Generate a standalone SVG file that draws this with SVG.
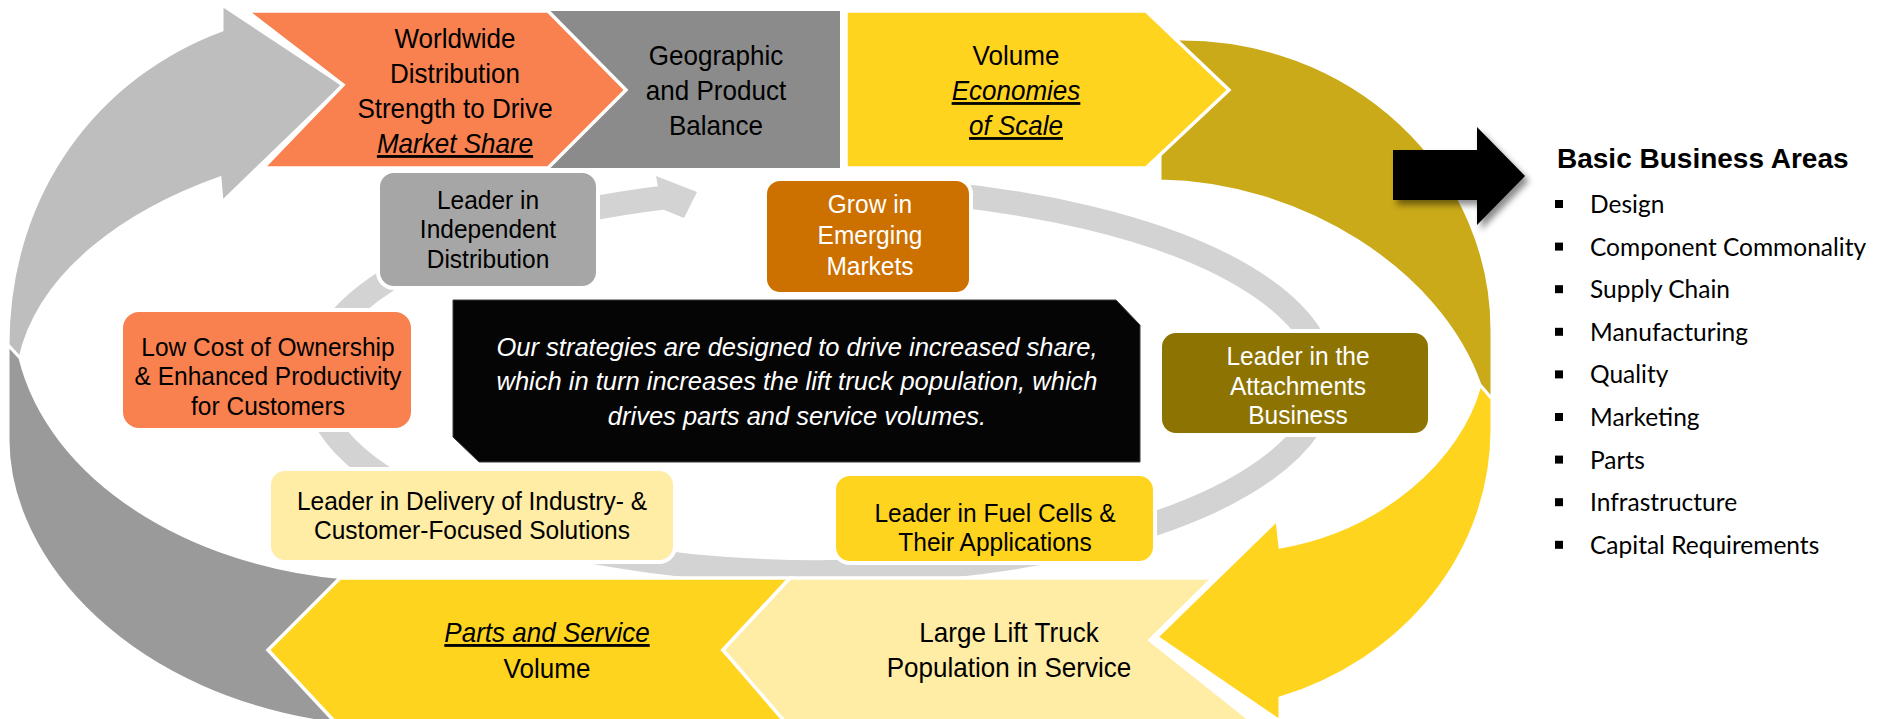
<svg xmlns="http://www.w3.org/2000/svg" width="1878" height="719" viewBox="0 0 1878 719">
<defs>
<filter id="shadow" x="-20%" y="-20%" width="150%" height="160%">
<feDropShadow dx="4" dy="5" stdDeviation="3" flood-color="#000" flood-opacity="0.45"/>
</filter>
</defs>
<style>
.big{stroke:#fff;stroke-width:3;stroke-linejoin:miter}
.chev{stroke:#fff;stroke-width:3.5;stroke-linejoin:miter}
.box{stroke:#fff;stroke-width:4}
.t{font-family:"Liberation Sans",Arial,sans-serif;text-anchor:middle;fill:#000}
.ct{font-size:28px}
.bt{font-size:26.5px}
.w{fill:#fff}
.iu{font-style:italic;text-decoration:underline}
.it{font-style:italic;font-size:25.5px;fill:#fff}
.band{fill:none;stroke:#D3D3D3;stroke-width:24}
.head{font-family:"Liberation Sans",Arial,sans-serif;font-weight:bold;font-size:28px;fill:#000}
.li{font-family:Lato,"Open Sans",sans-serif;font-size:24.5px;fill:#000}
.bul{fill:#000}
</style>

<g id="cycle-arrows">
<path id="arc-lightgrey" class="big" fill="#BEBEBE" d="M 222,30 L 222,5 L 343,85 L 222,202 L 220,178 C 130,210 40,270 20,358 L 8,345 C 8,190 100,75 222,30 Z"/>
<path id="arc-darkgrey" class="big" fill="#9A9A9A" d="M 8,345 L 8,440 C 8,560 130,700 345,725 L 380,725 L 380,580 L 345,578 C 190,565 50,480 20,358 Z"/>
<path id="arc-gold" class="big" fill="#CAAA18" d="M 1160,39 L 1182,39 A 310 291 0 0 1 1492,330 L 1492,399 L 1480,385 C 1440,270 1300,183 1160,181 Z"/>
</g>

<g id="connectors">
<path id="ring" class="band" d="M 870,189.1 A 505 192 0 1 1 665,197.3"/>
<polygon id="ring-head" fill="#D3D3D3" points="656,176 697,192 684,218 662,209"/>
<polygon id="to-business-areas" fill="#000" filter="url(#shadow)" points="1393,150 1477,150 1477,127 1525,176 1477,225 1477,200 1393,200"/>
</g>

<g id="node-geographic">
<rect x="540" y="11" width="300" height="157" fill="#8B8B8B"/>
<g transform="translate(716 0) scale(0.93 1) translate(-716 0)">
<text class="t ct"><tspan x="716" y="65">Geographic</tspan><tspan x="716" y="100">and Product</tspan><tspan x="716" y="135">Balance</tspan></text>
</g>
</g>

<g id="node-worldwide">
<polygon class="chev" fill="#F8814F" points="247,11 548,11 626,90 548,168 263,168 343,85"/>
<g transform="translate(455 0) scale(0.93 1) translate(-455 0)">
<text class="t ct"><tspan x="455" y="48">Worldwide</tspan><tspan x="455" y="83">Distribution</tspan><tspan x="455" y="118">Strength to Drive</tspan></text>
<text class="t ct iu" x="455" y="153">Market Share</text>
</g>
</g>

<g id="node-volume">
<polygon class="chev" fill="#FED41F" points="846,11 1146,11 1229,90 1146,168 846,168"/>
<g transform="translate(1016 0) scale(0.93 1) translate(-1016 0)">
<text class="t ct" x="1016" y="65">Volume</text>
<text class="t ct iu" x="1016" y="100">Economies</text>
<text class="t ct iu" x="1016" y="135">of Scale</text>
</g>
</g>

<g id="node-parts">
<polygon class="chev" fill="#FED41F" points="340,578 790,578 723,650 790,722 335,722 268,650"/>
<g transform="translate(547 0) scale(0.93 1) translate(-547 0)">
<text class="t ct iu" x="547" y="642">Parts and Service</text>
<text class="t ct" x="547" y="678">Volume</text>
</g>
</g>

<g id="node-population">
<polygon class="chev" fill="#FFECA5" points="790,578 1213,578 1150,640 1253,722 785,722 723,650"/>
<g transform="translate(1009 0) scale(0.93 1) translate(-1009 0)">
<text class="t ct"><tspan x="1009" y="642">Large Lift Truck</tspan><tspan x="1009" y="677">Population in Service</tspan></text>
</g>
</g>

<g id="arc-yellow">
<path class="big" fill="#FED41F" d="M 1480,385 L 1492,399 L 1492,430 A 310 283 0 0 1 1280,698 L 1280,721 L 1157,637 L 1277,520 L 1280,547 C 1380,530 1460,460 1480,385 Z"/>
</g>

<g id="node-independent">
<rect class="box" x="378" y="171" width="220" height="117" rx="16" fill="#A6A6A6"/>
<g transform="translate(488 0) scale(0.925 1) translate(-488 0)">
<text class="t bt"><tspan x="488" y="209">Leader in</tspan><tspan x="488" y="238">Independent</tspan><tspan x="488" y="268">Distribution</tspan></text>
</g>
</g>

<g id="node-emerging">
<rect class="box" x="765" y="179" width="206" height="115" rx="15" fill="#CC7000"/>
<g transform="translate(870 0) scale(0.925 1) translate(-870 0)">
<text class="t bt w"><tspan x="870" y="213">Grow in</tspan><tspan x="870" y="244">Emerging</tspan><tspan x="870" y="275">Markets</tspan></text>
</g>
</g>

<g id="node-lowcost">
<rect class="box" x="121" y="310" width="292" height="120" rx="18" fill="#F8814F"/>
<g transform="translate(268 0) scale(0.925 1) translate(-268 0)">
<text class="t bt"><tspan x="268" y="356">Low Cost of Ownership</tspan><tspan x="268" y="385">&amp; Enhanced Productivity</tspan><tspan x="268" y="415">for Customers</tspan></text>
</g>
</g>

<g id="node-attachments">
<rect class="box" x="1160" y="331" width="270" height="104" rx="16" fill="#8D7301"/>
<g transform="translate(1298 0) scale(0.925 1) translate(-1298 0)">
<text class="t bt w"><tspan x="1298" y="365">Leader in the</tspan><tspan x="1298" y="395">Attachments</tspan><tspan x="1298" y="424">Business</tspan></text>
</g>
</g>

<g id="node-delivery">
<rect class="box" x="269" y="469" width="406" height="93" rx="16" fill="#FFECA5"/>
<g transform="translate(472 0) scale(0.925 1) translate(-472 0)">
<text class="t bt"><tspan x="472" y="510">Leader in Delivery of Industry- &amp;</tspan><tspan x="472" y="539">Customer-Focused Solutions</tspan></text>
</g>
</g>

<g id="node-fuelcells">
<rect class="box" x="834" y="474" width="321" height="89" rx="16" fill="#FED41F"/>
<g transform="translate(995 0) scale(0.925 1) translate(-995 0)">
<text class="t bt"><tspan x="995" y="522">Leader in Fuel Cells &amp;</tspan><tspan x="995" y="551">Their Applications</tspan></text>
</g>
</g>

<g id="node-strategy">
<polygon fill="#050505" stroke="#3a3a3a" stroke-width="1" points="453,300 1116,300 1140,325 1140,462 479,462 453,437"/>
<text class="t it"><tspan x="797" y="356">Our strategies are designed to drive increased share,</tspan><tspan x="797" y="390">which in turn increases the lift truck population, which</tspan><tspan x="797" y="425">drives parts and service volumes.</tspan></text>
</g>

<g id="node-business-areas">
<text class="head" x="1557" y="168">Basic Business Areas</text>
<rect class="bul" x="1555" y="200" width="8" height="8"/>
<rect class="bul" x="1555" y="242.6" width="8" height="8"/>
<rect class="bul" x="1555" y="285.2" width="8" height="8"/>
<rect class="bul" x="1555" y="327.8" width="8" height="8"/>
<rect class="bul" x="1555" y="370.4" width="8" height="8"/>
<rect class="bul" x="1555" y="413" width="8" height="8"/>
<rect class="bul" x="1555" y="455.6" width="8" height="8"/>
<rect class="bul" x="1555" y="498.2" width="8" height="8"/>
<rect class="bul" x="1555" y="540.8" width="8" height="8"/>
<text class="li" x="1590" y="213">Design</text>
<text class="li" x="1590" y="255.6">Component Commonality</text>
<text class="li" x="1590" y="298.2">Supply Chain</text>
<text class="li" x="1590" y="340.8">Manufacturing</text>
<text class="li" x="1590" y="383.4">Quality</text>
<text class="li" x="1590" y="426">Marketing</text>
<text class="li" x="1590" y="468.6">Parts</text>
<text class="li" x="1590" y="511.2">Infrastructure</text>
<text class="li" x="1590" y="553.8">Capital Requirements</text>
</g>
</svg>
